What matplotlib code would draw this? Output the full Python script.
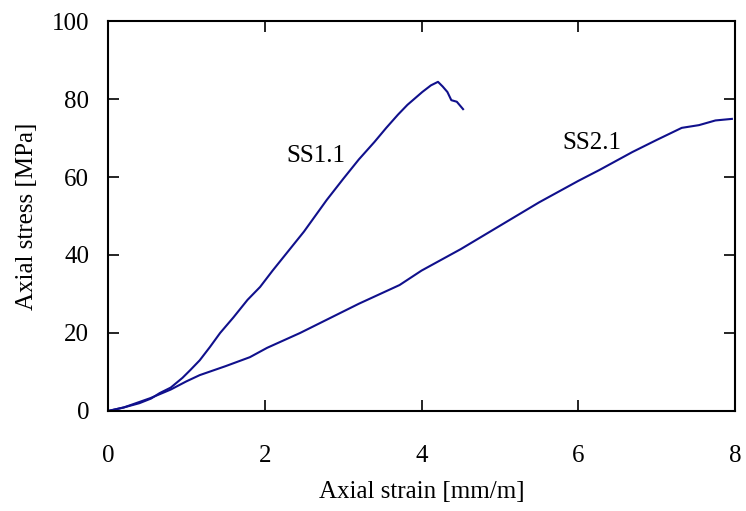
import matplotlib.pyplot as plt

ss11_strain = [0, 0.2, 0.4, 0.55, 0.66, 0.8, 0.95, 1.05, 1.17, 1.3, 1.43, 1.6,
               1.78, 1.94, 2.1, 2.3, 2.5, 2.79, 3.0, 3.2, 3.4, 3.55, 3.7, 3.82,
               4.01, 4.12, 4.21, 4.27, 4.33, 4.38, 4.45, 4.53]
ss11_stress = [0, 0.9, 2.0, 3.2, 4.6, 6.0, 8.5, 10.5, 13.0, 16.4, 20.0, 24.0,
               28.5, 31.8, 36.0, 41.0, 46.0, 54.1, 59.5, 64.5, 69.0, 72.6, 76.0,
               78.5, 81.8, 83.5, 84.4, 83.2, 81.8, 79.7, 79.3, 77.4]

ss21_strain = [0, 0.2, 0.54, 0.8, 1.0, 1.17, 1.5, 1.81, 2.03, 2.45, 2.8, 3.2,
               3.72, 4.0, 4.5, 5.0, 5.5, 6.0, 6.27, 6.69, 7.0, 7.32, 7.54, 7.75,
               7.96]
ss21_stress = [0, 0.9, 3.3, 5.5, 7.6, 9.2, 11.5, 13.8, 16.2, 20.0, 23.5, 27.5,
               32.3, 36.0, 41.5, 47.5, 53.5, 59.0, 61.8, 66.4, 69.5, 72.6, 73.3,
               74.5, 74.9]

plt.rcParams['font.family'] = ['Liberation Serif', 'DejaVu Serif']
line_color = '#10108c'

fig = plt.figure(figsize=(7.46, 5.11), dpi=100)
ax = fig.add_axes([0.1448, 0.1957, 0.8405, 0.7632])
ax.plot(ss11_strain, ss11_stress, color=line_color, lw=1.5)
ax.plot(ss21_strain, ss21_stress, color=line_color, lw=1.5)

ax.text(2.65, 65.4, 'SS1.1', fontsize=18, ha='center', va='center')
ax.text(6.17, 68.7, 'SS2.1', fontsize=18, ha='center', va='center')

ax.set_xlim(0, 8)
ax.set_ylim(0, 100)
ax.set_xticks(range(0, 9, 2))
ax.set_yticks(range(0, 101, 20))
ax.tick_params(direction='in', length=8, width=1.2, labelsize=18,
               top=True, right=True)
ax.tick_params(axis='y', pad=13.5)
ax.tick_params(axis='x', pad=24.5)
for sp in ax.spines.values():
    sp.set_linewidth(1.5)
ax.set_xlabel('Axial strain [mm/m]', fontsize=18, labelpad=10)
ax.set_ylabel('Axial stress [MPa]', fontsize=18, labelpad=10)

fig.savefig('out.png', dpi=100)
